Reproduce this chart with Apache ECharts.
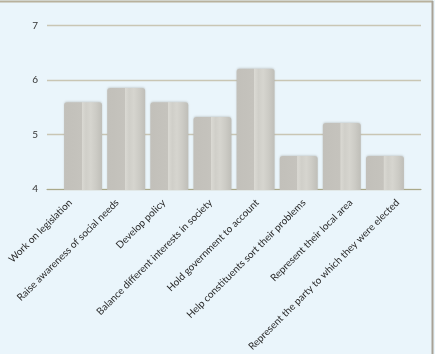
<!DOCTYPE html>
<html>
<head>
<meta charset="utf-8">
<script src="https://cdn.jsdelivr.net/npm/echarts@6/dist/echarts.min.js"></script>
<style>
  html, body { margin: 0; padding: 0; background: #eaf5fb; }
  #chart { width: 435px; height: 354px; }
</style>
</head>
<body>
<div id="chart"></div>
<script>
  // roles of an MP, mean rating
  var categories = [
    'Work on legislation',
    'Raise awareness of social needs',
    'Develop policy',
    'Balance different interests in society',
    'Hold government to account',
    'Help constituents sort their problems',
    'Represent their local area',
    'Represent the party to which they were elected'
  ];
  var ratings = [5.6, 5.86, 5.6, 5.33, 6.21, 4.62, 5.22, 4.62];
  var yTicks = [4, 5, 6, 7];

  var chart = echarts.init(document.getElementById('chart'));

  // bar face: darker front on the left, lighter ribbed side on the right
  var barFace = new echarts.graphic.LinearGradient(0, 0, 1, 0, [
    {offset: 0, color: '#c2c0ba'},
    {offset: 0.46, color: '#c5c3bd'},
    {offset: 0.47, color: '#dad9d3'},
    {offset: 0.58, color: '#d0cfc9'},
    {offset: 0.7, color: '#d6d5cf'},
    {offset: 0.85, color: '#cccbc5'},
    {offset: 1, color: '#bfbeb8'}
  ]);

  chart.setOption({
    backgroundColor: '#eaf5fb',
    animation: false,
    grid: [
      {left: 47, right: 14, top: 25.5, bottom: 164},
      {left: 61.5, right: 28.5, top: 25.5, bottom: 164}
    ],
    xAxis: [
      {
        // labels sit on the wide plot area, bars on the narrow one
        gridIndex: 0, type: 'category', data: categories,
        axisLine: {lineStyle: {color: '#a9a98a', width: 1.2}},
        axisTick: {show: false},
        axisLabel: {
          interval: 0, rotate: 45, margin: 12,
          fontFamily: 'Lato', fontSize: 10, color: '#2a2a2a'
        }
      },
      {
        gridIndex: 1, type: 'category', data: categories,
        axisLine: {show: false}, axisTick: {show: false},
        axisLabel: {show: false}
      }
    ],
    yAxis: [
      {
        gridIndex: 0, type: 'value',
        min: yTicks[0], max: yTicks[yTicks.length - 1], interval: 1,
        axisLine: {show: false}, axisTick: {show: false},
        axisLabel: {margin: 9, fontFamily: 'Lato', fontSize: 10, color: '#333'},
        splitLine: {lineStyle: {color: '#c9c6b4', width: 1.3}}
      },
      {
        gridIndex: 1, type: 'value',
        min: yTicks[0], max: yTicks[yTicks.length - 1], interval: 1,
        axisLine: {show: false}, axisTick: {show: false},
        axisLabel: {show: false}, splitLine: {show: false}
      }
    ],
    series: [{
      type: 'bar',
      xAxisIndex: 1, yAxisIndex: 1,
      data: ratings,
      barWidth: 38,
      itemStyle: {
        color: barFace,
        borderRadius: [3, 3, 0, 0],
        shadowColor: 'rgba(120,118,110,0.25)',
        shadowBlur: 2,
        shadowOffsetY: -1
      }
    }],
    graphic: [
      {type: 'line', shape: {x1: 0, y1: 1.5, x2: 433, y2: 1.5},
       style: {stroke: '#b8b19c', lineWidth: 2}},
      {type: 'line', shape: {x1: 432.5, y1: 1, x2: 432.5, y2: 354},
       style: {stroke: '#a8a296', lineWidth: 2}}
    ]
  });
</script>
</body>
</html>
